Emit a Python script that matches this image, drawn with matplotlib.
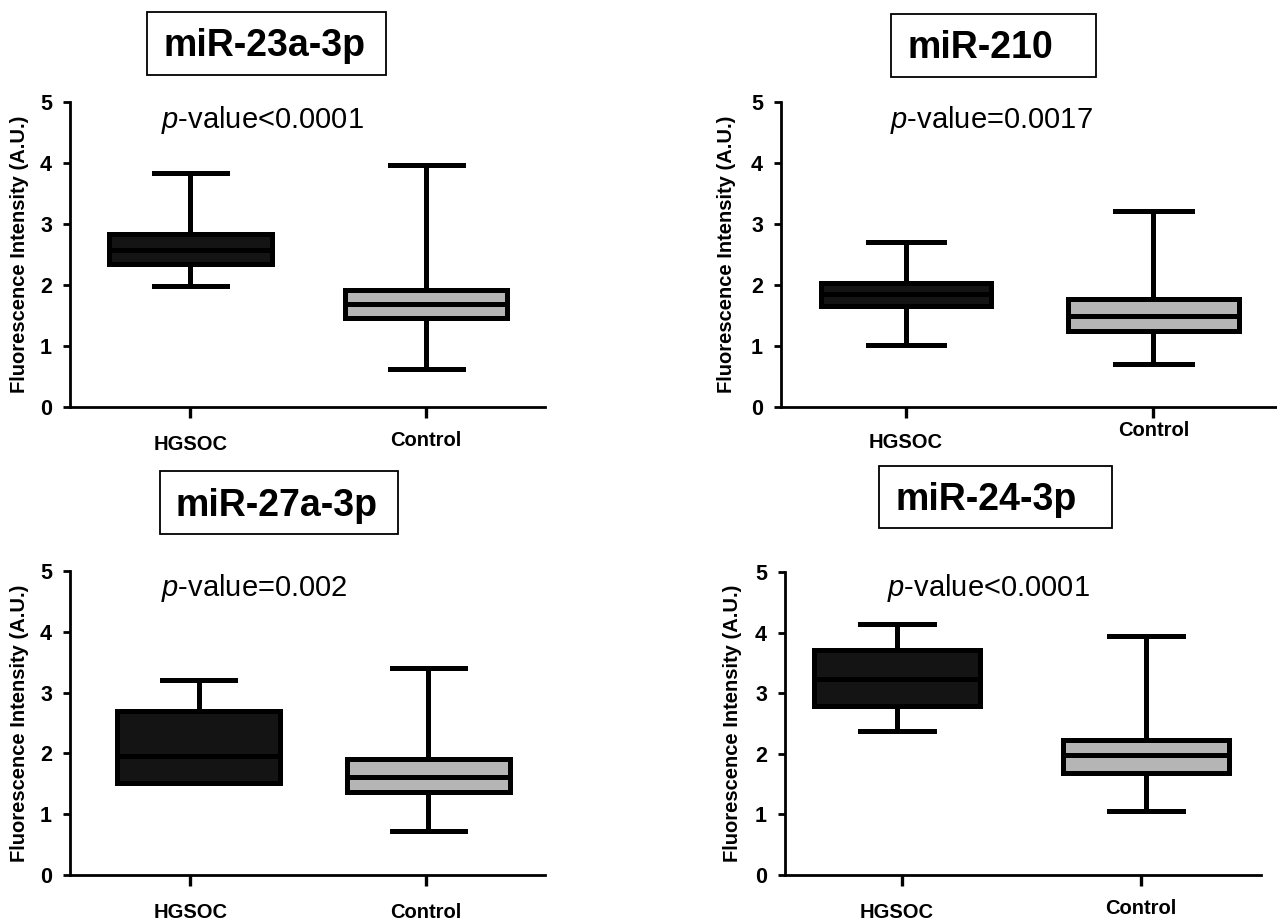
import matplotlib
matplotlib.use("Agg")
import matplotlib.pyplot as plt
from matplotlib.patches import Rectangle

# ---------------- data ----------------
groups = ["HGSOC", "Control"]
titles = ["miR-23a-3p", "miR-210", "miR-27a-3p", "miR-24-3p"]
pvalues = ["<0.0001", "=0.0017", "=0.002", "<0.0001"]

# per panel: [HGSOC, Control]
whishi = [[3.84, 3.96], [2.70, 3.22], [3.20, 3.40], [4.14, 3.95]]
q3     = [[2.84, 1.92], [2.03, 1.77], [2.70, 1.90], [3.71, 2.23]]
med    = [[2.58, 1.69], [1.86, 1.49], [1.96, 1.61], [3.24, 1.98]]
q1     = [[2.35, 1.46], [1.66, 1.25], [1.51, 1.36], [2.79, 1.68]]
whislo = [[1.99, 0.62], [1.01, 0.70], [1.51, 0.73], [2.38, 1.06]]

yticks = [0, 1, 2, 3, 4, 5]
box_colors = ["#141414", "#b5b5b5"]

# ---------------- layout (pixels) ----------------
W, H = 1277, 924
fig = plt.figure(figsize=(W / 100, H / 100), dpi=100)
plt.rcParams["font.family"] = ["Liberation Sans", "DejaVu Sans"]
plt.rcParams["mathtext.fontset"] = "custom"
plt.rcParams["mathtext.rm"] = "Liberation Sans"
plt.rcParams["mathtext.it"] = "Liberation Sans:italic"

def fx(x):
    return x / W

def fy(y):
    return 1 - y / H

# axes: left, right, top(value 5), bottom(value 0) in px
axes_px = [(70, 545, 102, 407), (781, 1277, 102, 407),
           (70, 545, 571, 875), (785, 1261, 572, 875)]
xlims = [(0.49, 2.504), (0.495, 2.50), (0.49, 2.504), (0.513, 2.50)]
positions = [[1.0, 2.0], [1.0, 2.0], [1.035, 2.01], [0.98, 2.02]]
label_pos = [[1.0, 2.0], [1.0, 2.0], [1.0, 2.0], [0.98, 2.0]]
title_box = [(147, 386, 12, 75), (891, 1096, 14, 77),
             (160, 398, 471, 534), (879, 1112, 466, 528)]
title_x = [164, 908, 176, 896]
pval_center = [(262, 117), (991, 117), (254, 585), (988, 585)]
ylabel_x = [20, 727, 20, 733]
label_y = [[445, 441], [442, 431], [913, 913], [913, 908]]

LW = 3.6
for i in range(4):
    l, r, t, b = axes_px[i]
    ax = fig.add_axes([fx(l), fy(b), (r - l) / W, (b - t) / H])
    stats = []
    for g in range(2):
        stats.append(dict(med=med[i][g], q1=q1[i][g], q3=q3[i][g],
                          whislo=whislo[i][g], whishi=whishi[i][g],
                          fliers=[], label=groups[g]))
    bp = ax.bxp(stats, positions=positions[i], widths=0.69, capwidths=0.31,
                showfliers=False, patch_artist=True,
                boxprops=dict(linewidth=LW, edgecolor="black"),
                medianprops=dict(color="black", linewidth=LW, solid_capstyle="butt"),
                whiskerprops=dict(color="black", linewidth=LW),
                capprops=dict(color="black", linewidth=LW))
    for patch, c in zip(bp["boxes"], box_colors):
        patch.set_facecolor(c)
        patch.set_joinstyle("miter")
    for art in bp["whiskers"] + bp["caps"] + bp["medians"] + bp["boxes"]:
        art.set_clip_on(False)

    ax.set_ylim(0, 5)
    ax.set_xlim(*xlims[i])
    ax.spines["top"].set_visible(False)
    ax.spines["right"].set_visible(False)
    for s in ["left", "bottom"]:
        ax.spines[s].set_linewidth(2.0)
    ax.set_yticks(yticks)
    ax.set_yticklabels([str(v) for v in yticks], fontsize=15.5, fontweight="bold")
    ax.tick_params(axis="y", length=5, width=2.0, pad=8)
    ax.set_xticks([1, 2])
    ax.set_xticklabels(["", ""])
    ax.tick_params(axis="x", length=8, width=2.4)

    # group labels below the axis
    for g in range(2):
        ly = label_y[i][g]
        ax.text(label_pos[i][g], (b - ly) / (b - t), groups[g],
                transform=ax.get_xaxis_transform(), ha="center", va="center",
                fontsize=14.5, fontweight="bold")

    ax.set_ylabel("Fluorescence Intensity (A.U.)", fontsize=14.5, fontweight="bold")
    ax.yaxis.set_label_coords(fx(ylabel_x[i]), fy((t + b) / 2), transform=fig.transFigure)
    ax.yaxis.label.set_va("center")

    # p-value
    pcx, pcy = pval_center[i]
    fig.text(fx(pcx), fy(pcy + 10.5), r"$\mathit{p}$-value" + pvalues[i],
             ha="center", va="baseline", fontsize=21)

    # title box
    bl, br, bt, bb = title_box[i]
    fig.patches.append(Rectangle((fx(bl), fy(bb)), (br - bl) / W, (bb - bt) / H,
                                 transform=fig.transFigure, fill=False,
                                 edgecolor="black", linewidth=1.3))
    fig.text(fx(title_x[i]), fy((bt + bb) / 2 + 13), titles[i],
             ha="left", va="baseline", fontsize=27, fontweight="bold")

fig.savefig("out.png", dpi=100)
